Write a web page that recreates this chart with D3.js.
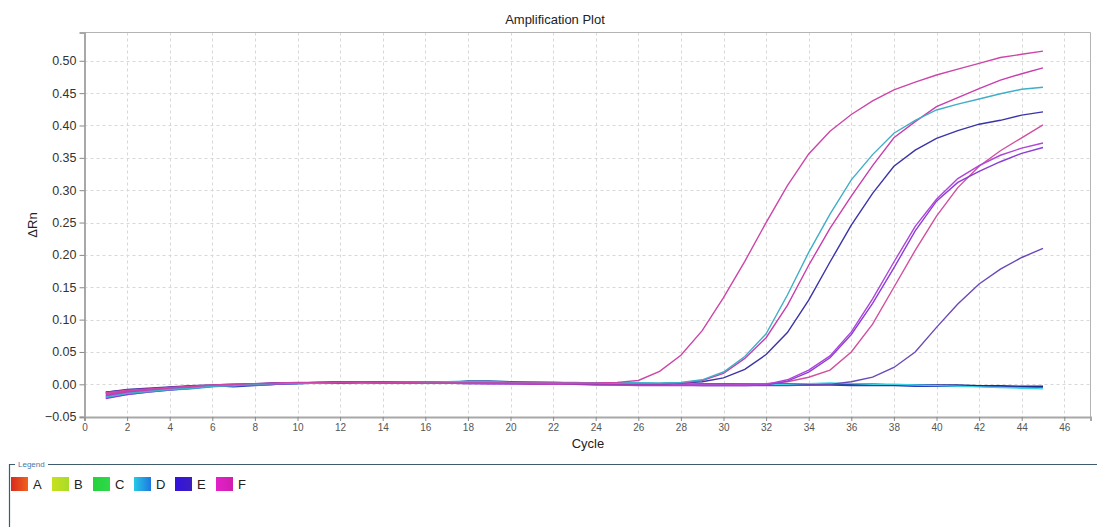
<!DOCTYPE html>
<html><head><meta charset="utf-8">
<script src="https://cdn.jsdelivr.net/npm/d3@7"></script>
<style>
html,body{margin:0;padding:0;background:#fff;}
svg{display:block;font-family:"Liberation Sans",Arial,sans-serif;}
</style></head>
<body><svg id="c" width="1097" height="527"></svg>
<script>
// ---- data ----
const cycles = d3.range(1, 46);
const xTicks = [0,2,4,6,8,10,12,14,16,18,20,22,24,26,28,30,32,34,36,38,40,42,44,46];
const yTicks = [-0.05,0.00,0.05,0.10,0.15,0.20,0.25,0.30,0.35,0.40,0.45,0.50];
const legendNames = ["A","B","C","D","E","F"];
const legendColors = [["#d82a1e","#f0641e"],["#c8e01e","#a8dc28"],["#22d23c","#30d84a"],["#28c8e6","#1e78e0"],["#3212e0","#3c1ec0"],["#e222c8","#d01eb0"]];

const flat1 = [-0.021,-0.016,-0.012,-0.009,-0.007,-0.004,-0.002,-0.001,0.000,0.001,0.002,0.002,0.003,0.003,0.003,0.003,0.004,0.005,0.005,0.004,0.004,0.003,0.003,0.002,0.002,0.002,0.001,0.001,0.001,0.001,0.000,0.000,0.000,0.000,0.001,0.000,0.000,-0.001,-0.001,-0.002,-0.002,-0.003,-0.004,-0.004,-0.005];
const flat2 = [-0.014,-0.010,-0.008,-0.006,-0.004,-0.002,-0.004,-0.002,0.000,0.001,0.002,0.003,0.003,0.003,0.003,0.003,0.003,0.004,0.004,0.003,0.002,0.002,0.002,0.001,0.001,0.001,0.001,0.001,0.001,0.000,0.000,0.000,-0.001,-0.001,-0.001,-0.002,-0.002,-0.002,-0.003,-0.003,-0.003,-0.003,-0.004,-0.004,-0.004];
const flat3 = [-0.012,-0.009,-0.007,-0.005,-0.003,-0.002,-0.001,0.000,0.002,0.002,0.003,0.004,0.004,0.004,0.003,0.003,0.003,0.005,0.005,0.004,0.003,0.003,0.002,0.002,0.002,0.001,0.001,0.001,0.001,0.001,0.001,0.001,0.001,0.001,0.001,0.000,0.000,-0.001,-0.001,-0.001,-0.001,-0.002,-0.002,-0.003,-0.003];
const flat4 = [-0.019,-0.015,-0.011,-0.008,-0.006,-0.003,-0.002,-0.001,0.000,0.001,0.002,0.002,0.003,0.003,0.003,0.003,0.003,0.004,0.004,0.003,0.003,0.003,0.002,0.002,0.002,0.002,0.001,0.001,0.000,0.000,0.000,0.000,0.000,0.001,0.002,0.001,0.000,0.000,-0.001,-0.002,-0.003,-0.004,-0.005,-0.006,-0.007];
const wellF1 = [-0.013,-0.009,-0.007,-0.005,-0.003,-0.001,0.000,0.001,0.002,0.003,0.003,0.003,0.003,0.003,0.003,0.002,0.002,0.002,0.002,0.002,0.002,0.002,0.002,0.002,0.003,0.006,0.020,0.045,0.083,0.134,0.190,0.250,0.307,0.356,0.391,0.417,0.438,0.455,0.467,0.478,0.487,0.496,0.505,0.510,0.515];
const wellD1 = [-0.020,-0.014,-0.011,-0.008,-0.006,-0.003,-0.002,0.000,0.001,0.002,0.002,0.003,0.003,0.003,0.003,0.003,0.004,0.004,0.004,0.003,0.003,0.002,0.002,0.002,0.002,0.002,0.002,0.003,0.007,0.019,0.043,0.078,0.138,0.204,0.263,0.316,0.355,0.388,0.408,0.424,0.433,0.441,0.449,0.456,0.459];
const wellF2 = [-0.016,-0.011,-0.009,-0.006,-0.004,-0.002,-0.001,0.000,0.001,0.002,0.002,0.003,0.003,0.003,0.002,0.002,0.002,0.002,0.002,0.002,0.001,0.001,0.001,0.001,0.001,0.001,0.001,0.002,0.006,0.017,0.040,0.072,0.122,0.184,0.241,0.291,0.338,0.381,0.406,0.429,0.443,0.457,0.470,0.480,0.489];
const wellE1 = [-0.012,-0.008,-0.006,-0.004,-0.002,-0.001,0.000,0.001,0.002,0.002,0.003,0.003,0.003,0.003,0.003,0.003,0.003,0.003,0.003,0.002,0.002,0.002,0.001,0.001,0.001,0.001,0.001,0.002,0.004,0.010,0.023,0.046,0.080,0.130,0.189,0.246,0.295,0.337,0.362,0.380,0.392,0.402,0.408,0.416,0.421];
const wellE2 = [-0.018,-0.013,-0.010,-0.007,-0.004,-0.002,-0.001,0.000,0.001,0.002,0.002,0.003,0.003,0.002,0.002,0.002,0.002,0.002,0.001,0.001,0.001,0.000,0.000,0.000,-0.001,-0.001,-0.001,-0.001,-0.001,-0.001,-0.001,0.000,0.007,0.022,0.044,0.081,0.132,0.189,0.244,0.286,0.318,0.338,0.354,0.365,0.373];
const wellE3 = [-0.022,-0.016,-0.012,-0.009,-0.006,-0.003,-0.002,-0.001,0.000,0.001,0.002,0.002,0.002,0.002,0.002,0.002,0.002,0.001,0.001,0.001,0.000,0.000,0.000,-0.001,-0.001,-0.002,-0.002,-0.002,-0.002,-0.002,-0.002,-0.001,0.005,0.019,0.041,0.077,0.125,0.180,0.237,0.283,0.312,0.329,0.344,0.357,0.366];
const wellF3 = [-0.014,-0.010,-0.008,-0.005,-0.003,-0.002,-0.001,0.000,0.001,0.002,0.003,0.003,0.003,0.002,0.002,0.002,0.002,0.002,0.002,0.001,0.001,0.001,0.000,0.000,0.000,0.000,-0.001,-0.001,-0.001,-0.001,0.000,0.001,0.004,0.011,0.022,0.050,0.093,0.150,0.207,0.260,0.304,0.337,0.361,0.381,0.401];
const wellE4 = [-0.017,-0.012,-0.009,-0.006,-0.004,-0.002,-0.001,0.000,0.001,0.002,0.002,0.002,0.003,0.003,0.003,0.003,0.003,0.003,0.002,0.002,0.002,0.001,0.001,0.000,0.000,-0.001,-0.001,-0.001,-0.002,-0.002,-0.002,-0.002,-0.002,-0.001,0.000,0.004,0.011,0.026,0.050,0.088,0.124,0.155,0.178,0.196,0.210];

const series = [
  {values: flat1, color: "#2aa8e0"},
  {values: flat2, color: "#2a3cc0"},
  {values: flat3, color: "#1c2a90"},
  {values: flat4, color: "#3cd0e4"},
  {values: wellE4, color: "#6a48b8"},
  {values: wellF3, color: "#d0509e"},
  {values: wellE3, color: "#8a3ed6"},
  {values: wellE2, color: "#b044d8"},
  {values: wellE1, color: "#3a34a8"},
  {values: wellF2, color: "#c83eac"},
  {values: wellD1, color: "#40aec8"},
  {values: wellF1, color: "#cc46a8"}
];

// ---- chart ----
const svg = d3.select("#c");
const L = 84.5, R = 1090.5, T = 32.5, B = 417;
const x = d3.scaleLinear().domain([0, 47.23]).range([L, R]);
const y = d3.scaleLinear().domain([-0.0505, 0.5437]).range([B, T]);

// grid
const grid = svg.append("g");
grid.selectAll(".vg").data(xTicks.filter(d => d > 0)).join("line")
  .attr("x1", d => Math.round(x(d)) + 0.5).attr("x2", d => Math.round(x(d)) + 0.5)
  .attr("y1", T).attr("y2", B)
  .attr("stroke", "#d8d8d8").attr("stroke-dasharray", "3,3");
grid.selectAll(".hg").data(yTicks.filter(d => d > -0.05)).join("line")
  .attr("y1", d => Math.round(y(d)) + 0.5).attr("y2", d => Math.round(y(d)) + 0.5)
  .attr("x1", L).attr("x2", R)
  .attr("stroke", "#d8d8d8").attr("stroke-dasharray", "3,3");

// border top/right
svg.append("path").attr("d", `M${L},${T}H${R}V${B}`).attr("fill","none").attr("stroke","#b4b4b4").attr("stroke-width",1);

// lines
const line = d3.line().x((d, i) => x(cycles[i])).y(d => y(d));
svg.append("g").selectAll("path").data(series).join("path")
  .attr("d", d => line(d.values))
  .attr("fill", "none").attr("stroke", d => d.color).attr("stroke-width", 1.4);

// axes
const yAxis = d3.axisLeft(y).tickValues(yTicks).tickFormat(d3.format(".2f")).tickSize(5).tickPadding(3);
const gy = svg.append("g").attr("transform", `translate(${L},0)`).call(yAxis);
gy.select(".domain").attr("stroke", "#a8a8a8").attr("stroke-width", 2);
gy.selectAll(".tick line").attr("stroke", "#888");
gy.selectAll(".tick text").attr("fill", "#333").attr("font-size", 12.5)
  .attr("font-family", "'Liberation Sans',Arial,sans-serif");

const xAxis = d3.axisBottom(x).tickValues(xTicks).tickFormat(d3.format("d")).tickSize(4).tickPadding(3);
const gx = svg.append("g").attr("transform", `translate(0,${B})`).call(xAxis);
gx.select(".domain").attr("stroke", "#a8a8a8").attr("stroke-width", 2);
gx.selectAll(".tick line").attr("stroke", "#888");
gx.selectAll(".tick text").attr("fill", "#555").attr("font-size", 10)
  .attr("font-family", "'Liberation Sans',Arial,sans-serif");

// titles
svg.append("text").attr("x", 555).attr("y", 24).attr("text-anchor", "middle")
  .attr("font-size", 13).attr("fill", "#222").text("Amplification Plot");
svg.append("text").attr("x", 588).attr("y", 448).attr("text-anchor", "middle")
  .attr("font-size", 13).attr("fill", "#222").text("Cycle");
svg.append("text").attr("transform", "translate(37,225) rotate(-90)").attr("text-anchor", "middle")
  .attr("font-size", 13).attr("fill", "#222").text("ΔRn");

// legend frame
const lg = svg.append("g");
lg.append("path").attr("d", "M9.5,527V464.5H15").attr("fill","none").attr("stroke","#3e5c6c").attr("stroke-width",1.2);
lg.append("path").attr("d", "M48,464.5H1097").attr("fill","none").attr("stroke","#3e5c6c").attr("stroke-width",1.2);
lg.append("text").attr("x", 18).attr("y", 467).attr("font-size", 8).attr("fill", "#4a78a8").text("Legend");

const defs = svg.append("defs");
legendColors.forEach((c, i) => {
  const g = defs.append("linearGradient").attr("id", "lgd" + i).attr("x1", "0").attr("x2", "1").attr("y1", "0").attr("y2", "0");
  g.append("stop").attr("offset", "0%").attr("stop-color", c[0]);
  g.append("stop").attr("offset", "100%").attr("stop-color", c[1]);
});
const lx = d3.scaleBand().domain(legendNames).range([11, 257]);
const items = lg.selectAll(".it").data(legendNames).join("g").attr("transform", d => `translate(${lx(d)},477)`);
items.append("rect").attr("width", 17).attr("height", 14).attr("fill", (d, i) => `url(#lgd${i})`);
items.append("text").attr("x", 22).attr("y", 12).attr("font-size", 13).attr("fill", "#222").text(d => d);
</script></body></html>
